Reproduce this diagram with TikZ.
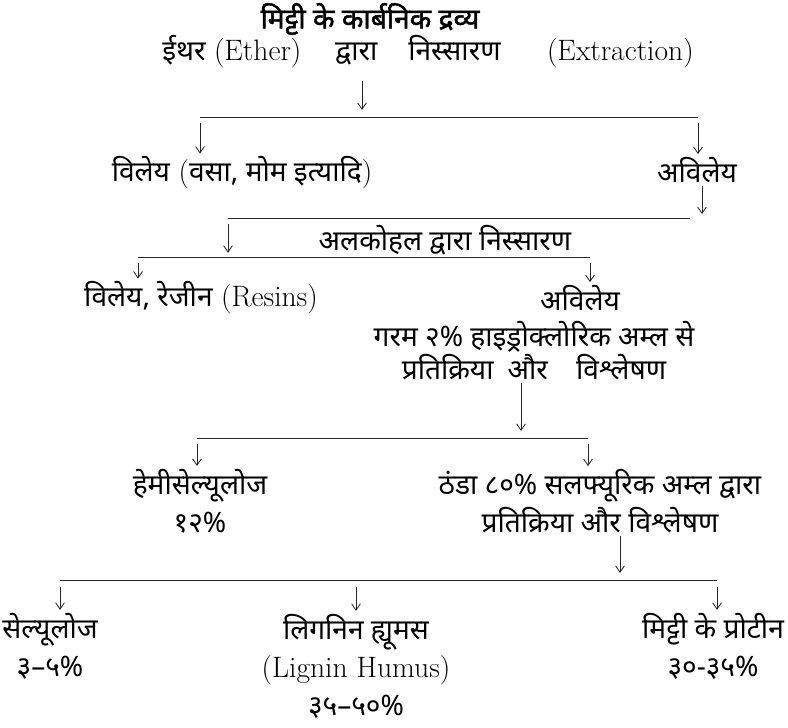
\documentclass[tikz,border=0pt]{standalone}
\usepackage{fontspec}
\newfontfamily\hifont[Script=Devanagari]{Noto Sans}
\newfontfamily\hiboldfont[Script=Devanagari,FakeBold=1.6]{Noto Sans}
\newcommand{\hi}[1]{{\hifont #1}}
\newcommand{\en}[1]{{\fontsize{21}{27}\selectfont #1}}
\usetikzlibrary{arrows.meta}
\tikzset{
  >={Straight Barb[length=1.6mm,width=2.2mm]},
  lbl/.style={font=\fontsize{20}{27}\selectfont,inner sep=2pt,align=center},
  ttl/.style={lbl,font=\fontsize{20}{27}\selectfont\hiboldfont},
  bar/.style={line width=0.7pt,draw=black!85},
  arr/.style={->,line width=0.6pt,draw=black!85},
}
\begin{document}
\begin{tikzpicture}[x=0.025cm,y=-0.025cm]
  \useasboundingbox (0,0) rectangle (788,728);
  % text
  \node[ttl] (title) at (370,19) {मिट्टी के कार्बनिक द्रव्य};
  \node[lbl] (ether) at (428,52) {\hi{ईथर}\hspace{6pt}\en{(Ether)}\hspace{24pt}\hi{द्वारा}\hspace{22pt}\hi{निस्सारण}\hspace{33pt}\en{(Extraction)}};
  \node[lbl] (sol1) at (242,173) {\hi{विलेय} \en{(}\hi{वसा, मोम इत्यादि}\en{)}};
  \node[lbl] (insol1) at (697,170) {\hi{अविलेय}};
  \node[lbl] (alc) at (445,240) {\hi{अलकोहल द्वारा निस्सारण}};
  \node[lbl] (resin) at (201,298) {\hi{विलेय, रेजीन} \en{(Resins)}};
  \node[lbl] (insol2) at (580,298) {\hi{अविलेय}};
  \node[lbl,font=\fontsize{20}{23.5}\selectfont] (hcl) at (534,351) {\hi{गरम २\% हाइड्रोक्लोरिक अम्ल से}\\\hi{प्रतिक्रिया\enspace और\quad विश्लेषण}};
  \node[lbl] (hemi) at (200,501) {\hi{हेमीसेल्यूलोज}\\\hi{१२\%}};
  \node[lbl] (sulf) at (600,501) {\hi{ठंडा ८०\% सलफ्यूरिक अम्ल द्वारा}\\\hi{प्रतिक्रिया और विश्लेषण}};
  \node[lbl] (cell) at (50,646) {\hi{सेल्यूलोज}\\\hi{३–५\%}};
  \node[lbl] (lignin) at (356,666) {\hi{लिगनिन ह्यूमस}\\\en{(Lignin Humus)}\\\hi{३५–५०\%}};
  \node[lbl] (prot) at (713,646) {\hi{मिट्टी के प्रोटीन}\\\hi{३०-३५\%}};
  % bars
  \coordinate (b1l) at (200,117); \coordinate (b1r) at (698,117);
  \coordinate (j1) at (362,117);
  \coordinate (b2l) at (228,218); \coordinate (b2r) at (690,218);
  \coordinate (j2) at (702,214);
  \coordinate (b3l) at (138,257); \coordinate (b3r) at (590,257);
  \coordinate (j3) at (228,257);
  \coordinate (b4l) at (197,438); \coordinate (b4r) at (588,438);
  \coordinate (j4) at (521,438);
  \coordinate (b5l) at (60,580); \coordinate (b5m) at (356,580); \coordinate (b5r) at (717,580);
  \coordinate (j5) at (620,580);
  \draw[bar] (b1l) -- (b1r);
  \draw[bar] (b2l) -- (b2r);
  \draw[bar] (b3l) -- (b3r);
  \draw[bar] (b4l) -- (b4r);
  \draw[bar] (b5l) -- (b5r);
  % arrows
  \draw[arr] ([yshift=-7pt]ether.south -| j1) -- ([yshift=5pt]j1);
  \draw[arr] ([yshift=-4pt]b1l) -- (sol1.north -| b1l);
  \draw[arr] ([yshift=-4pt]b1r) -- (insol1.north -| b1r);
  \draw[arr] (insol1.south -| j2) -- (j2);
  \draw[arr] ([yshift=-4pt]b2l) -- ([yshift=3pt]j3);
  \draw[arr] ([yshift=-4pt]b3l) -- (resin.north -| b3l);
  \draw[arr] ([yshift=-4pt]b3r) -- (insol2.north -| b3r);
  \draw[arr] (hcl.south -| j4) -- ([yshift=5pt]j4);
  \draw[arr] ([yshift=-4pt]b4l) -- (hemi.north -| b4l);
  \draw[arr] ([yshift=-4pt]b4r) -- (sulf.north -| b4r);
  \draw[arr] (sulf.south -| j5) -- ([yshift=5pt]j5);
  \draw[arr] ([yshift=-5pt]b5l) -- (cell.north -| b5l);
  \draw[arr] ([yshift=-5pt]b5m) -- (lignin.north -| b5m);
  \draw[arr] ([yshift=-5pt]b5r) -- (prot.north -| b5r);
\end{tikzpicture}
\end{document}
